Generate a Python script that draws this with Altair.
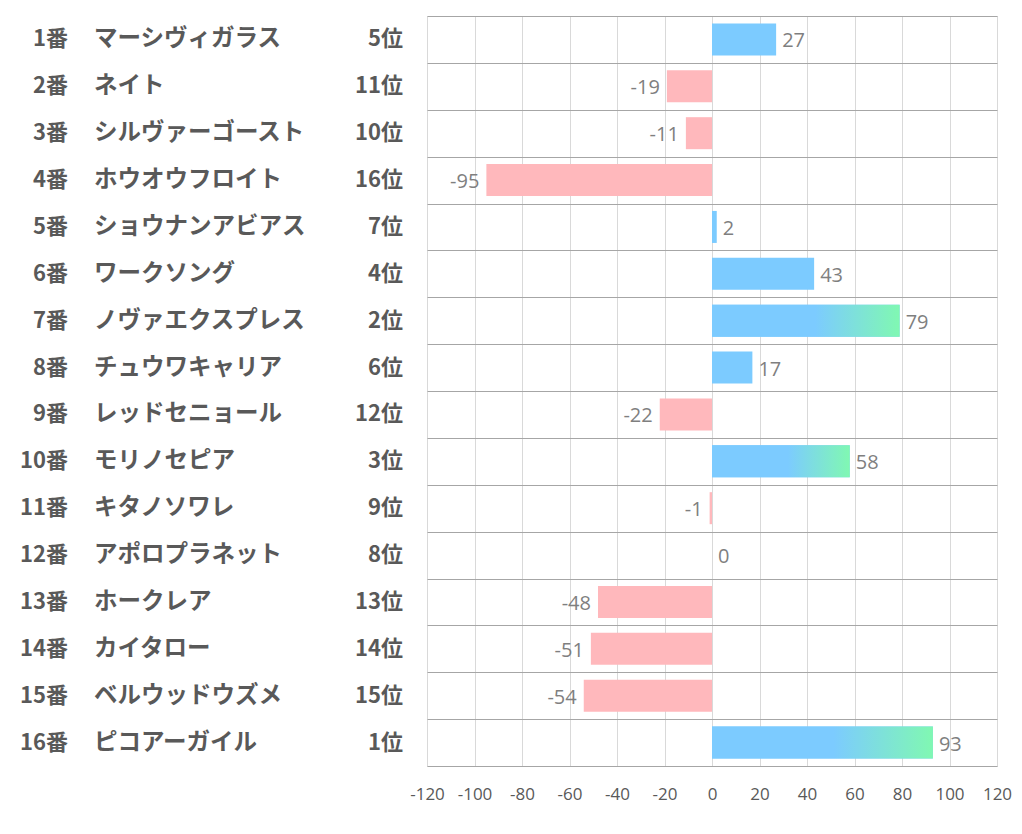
import altair as alt
import pandas as pd

nums = [f"{i}番" for i in range(1, 17)]
names = ["マーシヴィガラス", "ネイト", "シルヴァーゴースト", "ホウオウフロイト",
         "ショウナンアビアス", "ワークソング", "ノヴァエクスプレス", "チュウワキャリア",
         "レッドセニョール", "モリノセピア", "キタノソワレ", "アポロプラネット",
         "ホークレア", "カイタロー", "ベルウッドウズメ", "ピコアーガイル"]
ranks = [5, 11, 10, 16, 7, 4, 2, 6, 12, 3, 9, 8, 13, 14, 15, 1]
values = [27, -19, -11, -95, 2, 43, 79, 17, -22, 58, -1, 0, -48, -51, -54, 93]
ticks = list(range(-120, 121, 20))

df = pd.DataFrame({
    "num": nums,
    "name": names,
    "rank": [f"{r}位" for r in ranks],
    "rnk": ranks,
    "value": values,
    "vlabel": [str(v) for v in values],
})
df["key"] = df["num"]
df["sign"] = ["neg" if v < 0 else "pos" for v in values]

JP = "Noto Sans CJK JP"
NUMF = "Open Sans"
LABEL_COLOR = "#595959"

y = alt.Y("key:N", sort=nums, title=None,
          scale=alt.Scale(paddingInner=0, paddingOuter=0),
          axis=alt.Axis(labels=False, ticks=False, domain=False, grid=True,
                        tickBand="extent", gridColor="#a6a6a6", gridWidth=1))
x = alt.X("value:Q", title=None,
          scale=alt.Scale(domain=[-120, 120], nice=False),
          axis=alt.Axis(values=ticks, grid=True, gridColor="#d9d9d9",
                        ticks=False, domain=False, labelFont=NUMF,
                        labelFontSize=17, labelColor=LABEL_COLOR,
                        labelPadding=20, labelFlush=False,
                        labelExpr="toString(datum.value)"))

base = alt.Chart(df)
ysimple = alt.Y("key:N", sort=nums)

bars = base.mark_bar(height=32).encode(
    x=x, x2=alt.datum(0), y=y,
    color=alt.Color("sign:N", legend=None,
                    scale=alt.Scale(domain=["pos", "neg"],
                                    range=["#7ccbff", "#ffb8bc"])),
)

grad = base.transform_filter("datum.rnk <= 3").mark_bar(
    height=32,
    color=alt.Gradient(
        gradient="linear",
        stops=[alt.GradientStop(offset=0, color="#7ccbff"),
               alt.GradientStop(offset=0.55, color="#7ccbff"),
               alt.GradientStop(offset=1, color="#80f8b2")],
        x1=0, x2=1, y1=0, y2=0,
    ),
).encode(x="value:Q", x2=alt.datum(0), y=ysimple)

pos_txt = base.transform_filter("datum.value >= 0").mark_text(
    align="left", baseline="middle", dx=6, dy=2, font=NUMF, fontSize=20,
    color="#7f7f7f").encode(x="value:Q", y=ysimple, text="vlabel:N")
neg_txt = base.transform_filter("datum.value < 0").mark_text(
    align="right", baseline="middle", dx=-7, dy=2, font=NUMF, fontSize=20,
    color="#7f7f7f").encode(x="value:Q", y=ysimple, text="vlabel:N")

num_txt = base.mark_text(align="right", baseline="middle", font=JP,
                         fontWeight="bold", fontSize=22, color=LABEL_COLOR).encode(
    x=alt.value(-359), y=ysimple, text="num:N")
name_txt = base.mark_text(align="left", baseline="middle", font=JP,
                          fontWeight="bold", fontSize=23.5, color=LABEL_COLOR).encode(
    x=alt.value(-333), y=ysimple, text="name:N")
rank_txt = base.mark_text(align="right", baseline="middle", font=JP,
                          fontWeight="bold", fontSize=22, color=LABEL_COLOR).encode(
    x=alt.value(-24), y=ysimple, text="rank:N")

chart = alt.layer(bars, grad, pos_txt, neg_txt, num_txt, name_txt, rank_txt).properties(
    width=1004, height=812,
    autosize=alt.AutoSizeParams(type="fit", contains="padding"),
    padding={"left": 12, "top": 8, "right": 0, "bottom": 18},
).configure_view(stroke="#a6a6a6", strokeWidth=1).configure(background="white")

chart.save("out.html", embed_options={"renderer": "svg", "actions": False})
